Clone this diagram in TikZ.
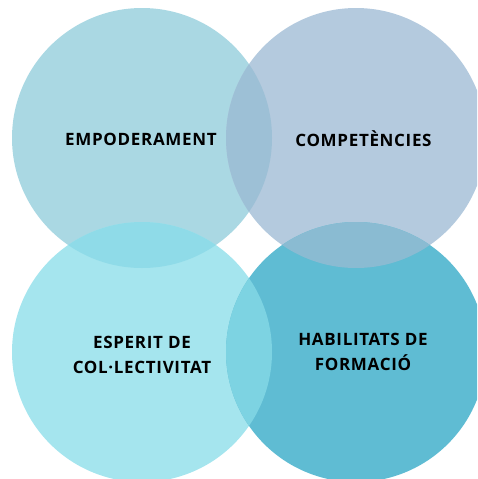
\documentclass[tikz,border=0pt]{standalone}
\usepackage{fontspec}
\usepackage{tikz}
\newfontfamily\bubblefont{Open Sans}[LetterSpace=4,BoldFont={Open Sans Bold}]
\definecolor{empcol}{HTML}{AAD8E3}
\definecolor{comcol}{HTML}{B4CADE}
\definecolor{espcol}{HTML}{A5E5EE}
\definecolor{habcol}{HTML}{5FBCD3}
\definecolor{empcom}{HTML}{9DC0D6}
\definecolor{empesp}{HTML}{8FDBE8}
\definecolor{comhab}{HTML}{8ABBD2}
\definecolor{esphab}{HTML}{7DD3E2}
\tikzset{bubble/.style={circle,minimum size=260pt,inner sep=0pt},
  bubbletext/.style={align=center,text=black,font=\bubblefont\bfseries\fontsize{17}{25.5}\selectfont}}

\begin{document}
\begin{tikzpicture}[x=1pt,y=-1pt]
    \useasboundingbox (0,0) rectangle (477,479);
    \clip (0,0) rectangle (477,479);

    % the four circles
    \foreach \name/\cx/\cy/\col in {emp/142/138/empcol,com/356/138/comcol,esp/142/352/espcol,hab/356/352/habcol} {
      \node[bubble,fill=\col] (\name) at (\cx,\cy) {};
    }

    % where two of them overlap
    \foreach \a/\b/\col in {emp/com/empcom,emp/esp/empesp,com/hab/comhab,esp/hab/esphab} {
      \begin{scope}
        \clip (\a.center) circle[radius=130pt];
        \fill[\col] (\b.center) circle[radius=130pt];
      \end{scope}
    }

    \node[bubbletext] (empt) at (141,139) {EMPODERAMENT};
    \node[bubbletext] (comt) at (363.5,139) {COMPETÈNCIES};
    \node[bubbletext] (espt) at (142,355) {ESPERIT DE\\COL·LECTIVITAT};
    \node[bubbletext] (habt) at (363,352) {HABILITATS DE\\FORMACIÓ};
  \end{tikzpicture}
\end{document}
